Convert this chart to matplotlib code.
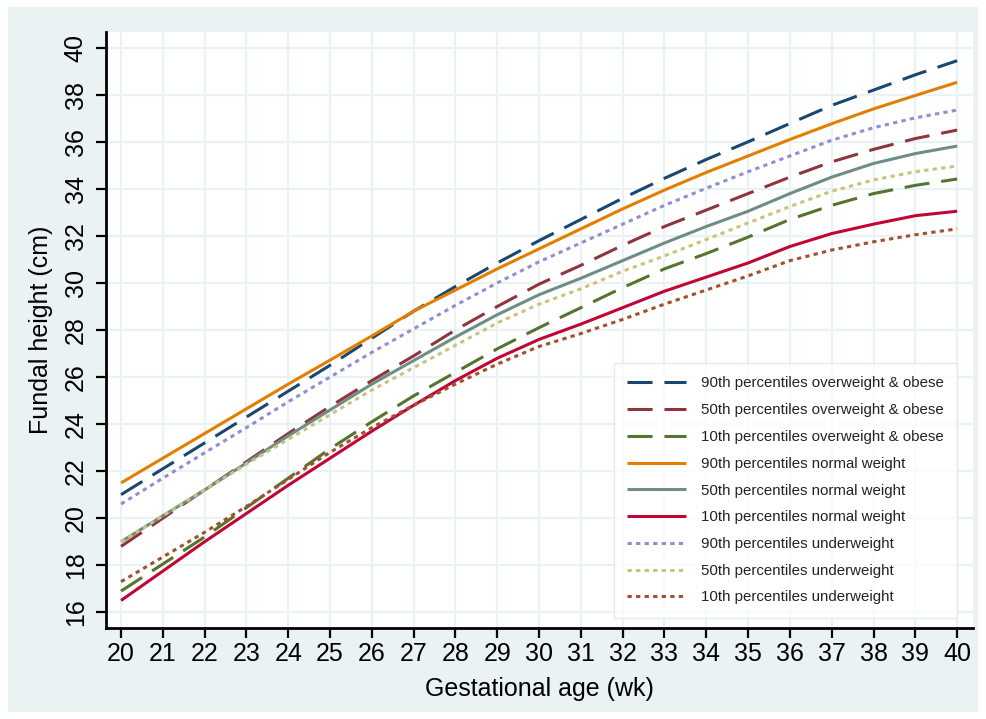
import matplotlib
matplotlib.use("Agg")
import matplotlib.pyplot as plt
from matplotlib.patches import Rectangle

plt.rcParams['font.family'] = ['Liberation Sans', 'DejaVu Sans']

weeks = list(range(20, 41))

p90_ow = [21.0, 22.1, 23.2, 24.3, 25.4, 26.5, 27.65, 28.8, 29.85, 30.85, 31.8,
          32.7, 33.6, 34.45, 35.25, 36.0, 36.78, 37.55, 38.2, 38.85, 39.45]
p50_ow = [18.8, 20.0, 21.2, 22.4, 23.6, 24.75, 25.85, 26.9, 28.0, 29.0, 29.95,
          30.75, 31.6, 32.4, 33.1, 33.8, 34.5, 35.15, 35.68, 36.14, 36.5]
p10_ow = [16.9, 18.05, 19.2, 20.45, 21.7, 22.95, 24.1, 25.2, 26.2, 27.2, 28.1,
          28.95, 29.8, 30.6, 31.25, 31.95, 32.7, 33.3, 33.8, 34.15, 34.42]
p90_nw = [21.5, 22.55, 23.6, 24.65, 25.7, 26.72, 27.75, 28.8, 29.7, 30.6, 31.45,
          32.3, 33.15, 33.95, 34.7, 35.4, 36.1, 36.77, 37.4, 37.97, 38.53]
p50_nw = [19.0, 20.1, 21.2, 22.35, 23.5, 24.6, 25.7, 26.7, 27.7, 28.65, 29.5,
          30.2, 30.95, 31.7, 32.4, 33.05, 33.8, 34.5, 35.08, 35.5, 35.82]
p10_nw = [16.5, 17.75, 19.0, 20.2, 21.4, 22.55, 23.7, 24.8, 25.85, 26.8, 27.6,
          28.25, 28.95, 29.65, 30.25, 30.85, 31.55, 32.1, 32.5, 32.86, 33.05]
p90_uw = [20.6, 21.7, 22.78, 23.85, 24.95, 26.0, 27.05, 28.05, 29.05, 30.0, 30.9,
          31.7, 32.5, 33.3, 34.03, 34.73, 35.4, 36.07, 36.6, 37.02, 37.35]
p50_uw = [19.0, 20.1, 21.2, 22.3, 23.35, 24.4, 25.45, 26.4, 27.35, 28.3, 29.1,
          29.75, 30.5, 31.15, 31.85, 32.55, 33.25, 33.9, 34.38, 34.73, 34.97]
p10_uw = [17.3, 18.35, 19.4, 20.5, 21.65, 22.8, 23.85, 24.8, 25.7, 26.55, 27.3,
          27.85, 28.45, 29.1, 29.7, 30.3, 30.95, 31.4, 31.75, 32.05, 32.3]

labels = ["90th percentiles overweight & obese",
          "50th percentiles overweight & obese",
          "10th percentiles overweight & obese",
          "90th percentiles normal weight",
          "50th percentiles normal weight",
          "10th percentiles normal weight",
          "90th percentiles underweight",
          "50th percentiles underweight",
          "10th percentiles underweight"]

series = [p90_ow, p50_ow, p10_ow, p90_nw, p50_nw, p10_nw, p90_uw, p50_uw, p10_uw]
colors = ["#1A476F", "#90353B", "#55752F", "#E37E00", "#6E8E84", "#C10534",
          "#938DD2", "#CAC27E", "#A0522D"]
long_dash = (0, (8.2, 3.9))
dot = (0, (1.4, 1.4))
styles = [long_dash] * 3 + ['-'] * 3 + [dot] * 3

bg = "#EAF2F3"
fig = plt.figure(figsize=(9.86, 7.19), dpi=100, facecolor='white')
fig.patches.append(Rectangle((8 / 986, 1 - 712 / 719), 970 / 986, 705 / 719,
                             transform=fig.transFigure, facecolor=bg,
                             edgecolor='none', zorder=-10))

ax = fig.add_axes([106 / 986, 1 - 628 / 719, (973 - 106) / 986, (628 - 32) / 719])
ax.set_facecolor('white')

for y, c, ls, lab in zip(series, colors, styles, labels):
    ax.plot(weeks, y, color=c, linestyle=ls, linewidth=2.2, label=lab,
            solid_capstyle='butt', dash_capstyle='butt')

ax.set_xlim(19.64, 40.38)
ax.set_ylim(15.33, 40.67)
ax.set_xticks(weeks)
ax.set_yticks(list(range(16, 41, 2)))
ax.set_yticklabels([str(v) for v in range(16, 41, 2)], rotation=90, va='center')
ax.grid(True, color=bg, linewidth=1.6)
ax.set_axisbelow(True)

for s in ['top', 'right']:
    ax.spines[s].set_visible(False)
for s in ['left', 'bottom']:
    ax.spines[s].set_linewidth(2.0)
    ax.spines[s].set_color('black')

ax.tick_params(axis='both', direction='out', length=7.2, width=1.6,
               labelsize=18, colors='black')
ax.tick_params(axis='y', pad=6)
ax.tick_params(axis='x', pad=3)

ax.set_xlabel("Gestational age (wk)", fontsize=18, labelpad=8)
ax.set_ylabel("Fundal height (cm)", fontsize=18, labelpad=8)

leg = ax.legend(loc='lower right', bbox_to_anchor=(957 / 986, 1 - 618 / 719),
                bbox_transform=fig.transFigure, fontsize=10.8, frameon=True,
                fancybox=False, handlelength=3.9, handletextpad=1.0,
                labelspacing=0.85, borderpad=0.9, borderaxespad=0)
leg.get_frame().set_edgecolor('#DDE6E8')
leg.get_frame().set_linewidth(1.0)
for t in leg.get_texts():
    t.set_color('#222222')

fig.savefig("out.png", dpi=100, facecolor='white')
